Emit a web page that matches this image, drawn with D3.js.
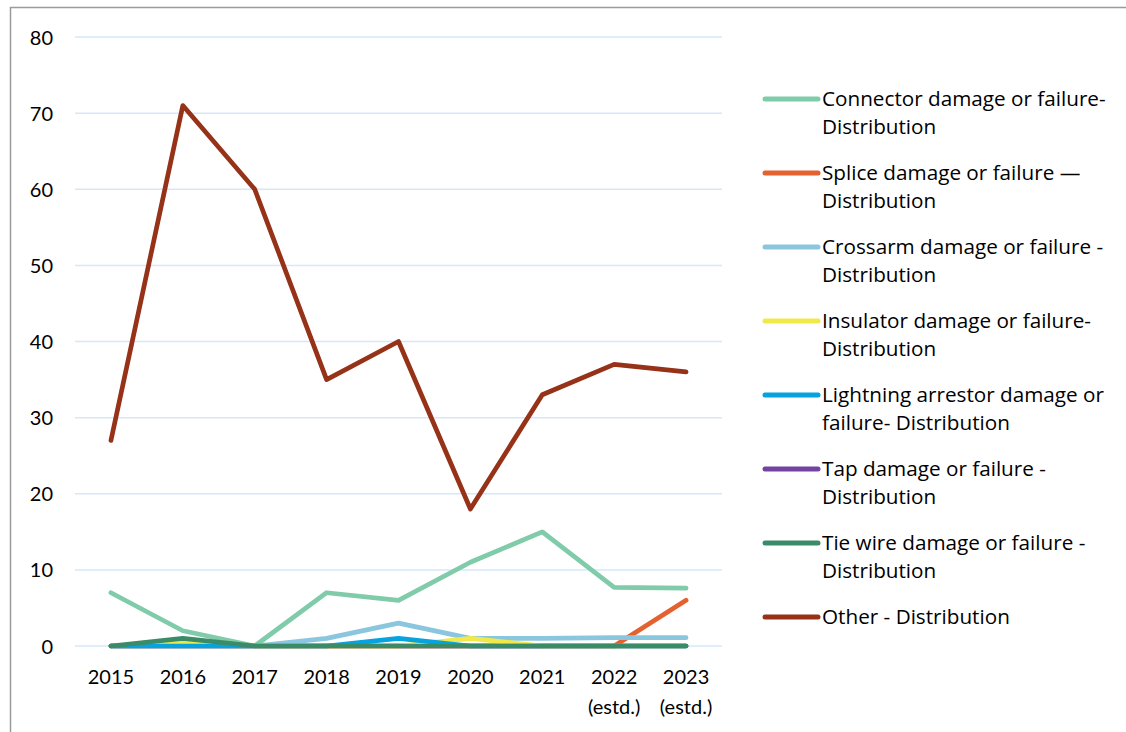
<!DOCTYPE html>
<html><head><meta charset="utf-8">
<script src="https://cdn.jsdelivr.net/npm/d3@7"></script>
<style>body{margin:0;background:#fff;} svg{display:block;} text{font-family:Lato,"Open Sans",sans-serif;fill:#000;}</style>
</head><body><svg id="c" width="1126" height="732"></svg>
<script>
const years = ["2015","2016","2017","2018","2019","2020","2021","2022","2023"];
const yearSub = ["","","","","","","","(estd.)","(estd.)"];
const yTicks = [0,10,20,30,40,50,60,70,80];
const seriesNames = [
  ["Connector damage or failure-","Distribution"],
  ["Splice damage or failure \u2014","Distribution"],
  ["Crossarm damage or failure -","Distribution"],
  ["Insulator damage or failure-","Distribution"],
  ["Lightning arrestor damage or","failure- Distribution"],
  ["Tap damage or failure -","Distribution"],
  ["Tie wire damage or failure -","Distribution"],
  ["Other - Distribution"]
];
const connector = [7,2,0,7,6,11,15,7.7,7.6];
const splice    = [0,0,0,0,0,0,0,0,6];
const crossarm  = [0,0,0,1,3,1,1,1.1,1.1];
const insulator = [0,0.5,0,0,0,1,0,0,0];
const lightning = [0,0,0,0,1,0,0,0,0];
const tap       = [0,0,0,0,0,0,0,0,0];
const tieWire   = [0,1,0,0,0,0,0,0,0];
const other     = [27,71,60,35,40,18,33,37,36];
const colors = ["#80CBA9","#E4622F","#8BC6DF","#F1E948","#06A3DF","#7243A0","#3A8B68","#953218"];
const drawOrder = [5,0,1,2,3,4,6,7];

const allSeries = [connector,splice,crossarm,insulator,lightning,tap,tieWire,other];
const svg = d3.select("#c");

// frame
svg.append("path").attr("d","M10.5,732 V7.5 H1126").attr("fill","none").attr("stroke","#9a9a9a").attr("stroke-width",1.5);

const x = d3.scaleBand().domain(years).range([75,722]);
const y = d3.scaleLinear().domain([0,80]).range([646,37]);

// gridlines
svg.append("g").selectAll("line").data(yTicks).join("line")
  .attr("x1",75).attr("x2",722).attr("y1",d=>y(d)).attr("y2",d=>y(d))
  .attr("stroke","#D5E8F8").attr("stroke-width",1.5);

// y axis labels
const yAxis = d3.axisLeft(y).tickValues(yTicks).tickSize(0).tickPadding(0);
const gy = svg.append("g").attr("transform","translate(53,0)").call(yAxis);
gy.select(".domain").remove();
gy.selectAll("text").style("font-size","20px").style("font-family","Lato").attr("dy","0.35em").attr("fill","#000");

// x axis labels
const xAxis = d3.axisBottom(x).tickSize(0).tickPadding(0);
const gx = svg.append("g").attr("transform","translate(0,670)").call(xAxis);
gx.select(".domain").remove();
gx.selectAll("text").style("font-size","20px").style("font-family","Lato").attr("dy","0.71em").attr("fill","#000");
gx.selectAll(".tick").append("text").text((d,i)=>yearSub[i])
  .attr("y",30).attr("dy","0.71em").attr("text-anchor","middle")
  .style("font-size","20px").attr("fill","#000");

// lines
const line = d3.line().x((d,i)=>x(years[i])+x.bandwidth()/2).y(d=>y(d));
svg.append("g").selectAll("path").data(drawOrder).join("path")
  .attr("d",k=>line(allSeries[k])).attr("fill","none")
  .attr("stroke",k=>colors[k]).attr("stroke-width",4.7)
  .attr("stroke-linejoin","round").attr("stroke-linecap","round");

// legend
const lg = svg.append("g").selectAll("g").data(seriesNames).join("g")
  .attr("transform",(d,i)=>`translate(0,${99+i*74})`);
lg.append("line").attr("x1",765).attr("x2",818).attr("y1",0).attr("y2",0)
  .attr("stroke",(d,i)=>colors[i]).attr("stroke-width",5).attr("stroke-linecap","round");
lg.append("text").attr("x",822).attr("y",0).style("font-size","20.7px").style("font-family","'Open Sans'")
  .selectAll("tspan").data(d=>d).join("tspan")
  .attr("x",822).attr("y",(d,j)=>j*28).attr("dy","0.35em").text(d=>d);
</script></body></html>
